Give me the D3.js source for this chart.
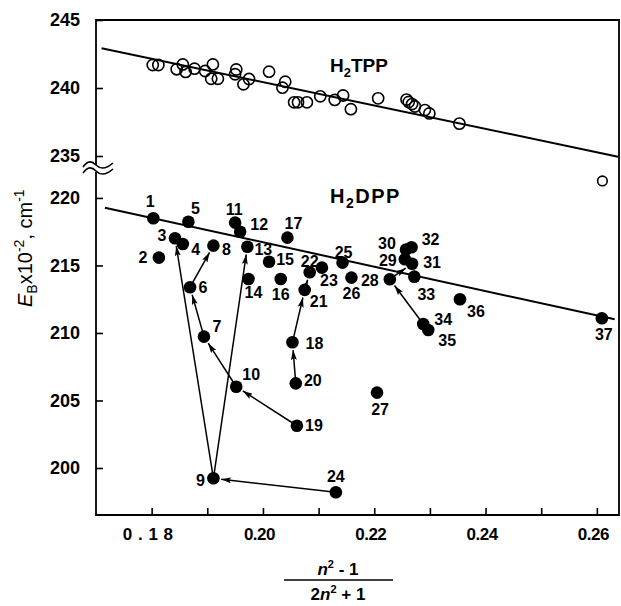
<!DOCTYPE html>
<html><head><meta charset="utf-8">
<script src="https://cdn.jsdelivr.net/npm/d3@7"></script>
<style>
html,body{margin:0;padding:0;background:#fff;}
svg{display:block;font-family:"Liberation Sans",Arial,Helvetica,sans-serif;}
svg text{fill:#000;}
</style></head>
<body>
<script>
// ---------- DATA ----------
// H2TPP (open circles)
const tppX = [0.1802,0.1812,0.1845,0.1856,0.1861,0.1877,0.1896,0.1910,0.1907,0.1919,
              0.1952,0.1950,0.1965,0.1975,0.2011,0.2040,0.2035,0.2056,0.2063,0.2079,
              0.2103,0.2129,0.2144,0.2158,0.2207,0.2258,0.2262,0.2268,0.2273,0.2291,
              0.2299,0.2353,0.2610];
const tppY = [241.69,241.69,241.38,241.73,241.18,241.42,241.25,241.73,240.68,240.68,
              241.36,241.01,240.27,240.66,241.20,240.46,240.02,238.95,238.95,238.95,
              239.39,239.12,239.45,238.44,239.24,239.15,238.97,238.82,238.64,238.38,
              238.13,237.38,221.26];
// H2DPP (filled circles, numbered 1..37)
const dppX = [0.1803,0.1813,0.1842,0.1856,0.1866,0.1869,0.1894,0.1911,0.1911,0.1952,
              0.1950,0.1959,0.1972,0.1974,0.2011,0.2032,0.2044,0.2053,0.2061,0.2059,
              0.2075,0.2084,0.2106,0.2131,0.2143,0.2159,0.2205,0.2228,0.2255,0.2257,
              0.2268,0.2267,0.2272,0.2288,0.2297,0.2354,0.2609];
const dppY = [218.50,215.58,217.01,216.59,218.24,213.39,209.73,216.47,199.24,206.02,
              218.17,217.50,216.39,214.00,215.28,214.00,217.06,209.31,203.13,206.27,
              213.19,214.50,214.84,198.20,215.21,214.10,205.58,213.98,215.46,216.17,
              215.13,216.35,214.17,210.67,210.22,212.50,211.09];
const dppIds = d3.range(1, 38);
// arrows: [from, to] point numbers
const arrowFrom = [24, 9, 9, 19, 10, 7, 6, 20, 18, 21, 34, 28];
const arrowTo   = [ 9, 3,13, 10,  7, 6, 8, 18, 21, 22, 28, 31];
// regression lines
const tppLineX = [0.1710, 0.2638];
const tppLineY = [242.92, 234.95];
const dppLineX = [0.1716, 0.2632];
const dppLineY = [219.28, 211.01];
// ticks
const yTicks = [200, 205, 210, 215, 220, 235, 240, 245];
const xTicks = [0.18, 0.19, 0.20, 0.21, 0.22, 0.23, 0.24, 0.25, 0.26];
const xTickLabels = ["0 . 1 8", "", "0.20", "", "0.22", "", "0.24", "", "0.26"];

// ---------- LAYOUT ----------
const labelOffset = [[-3,-17],[-16,0],[-13,-3],[13,6],[7,-13],[13,0],[13,-10],[13,4],[-13,2],[15,-12],
  [-1,-13],[19,-7],[16,3],[5,14],[16,-2],[0,16],[6,-14],[22,1],[17,0],[17,-3],
  [14,12],[0,-11],[7,13],[0,-16],[1,-10],[0,16],[3,17],[-20,1],[-17,1],[-19,-6],
  [20,-1],[19,-8],[12,18],[20,-4],[19,10],[16,12],[2,16]];

const W = 621, H = 606;
const svg = d3.select("body").append("svg").attr("width", W).attr("height", H);

const x = d3.scaleLinear().domain([0.17, 0.2638]).range([96, 618]);
const y = d3.scaleLinear().domain([196.52, 222.07, 233.97, 245]).range([515, 170, 170, 20]);

// frame
svg.append("path")
  .attr("d", `M${x(0.17)},${y(245)}H619V${y(196.52)}H${x(0.17)}Z`)
  .attr("fill", "none").attr("stroke", "#000").attr("stroke-width", 1.8);

// axes
const yAxis = d3.axisLeft(y).tickValues(yTicks).tickSize(-7).tickPadding(16).tickFormat(d3.format("d"));
const gy = svg.append("g").attr("transform", `translate(${x(0.17)},0)`).call(yAxis);
gy.select(".domain").remove();
gy.selectAll(".tick line").attr("stroke-width", 1.6);
gy.selectAll(".tick text").attr("font-size", 18).attr("font-weight", "bold")
  .attr("font-family", "Liberation Sans, Arial, sans-serif").attr("fill", "#000");

const xAxis = d3.axisBottom(x).tickValues(xTicks).tickSize(-7).tickPadding(13)
  .tickFormat((d, i) => xTickLabels[i]);
const gx = svg.append("g").attr("transform", `translate(0,${y(196.52)})`).call(xAxis);
gx.select(".domain").remove();
gx.selectAll(".tick line").attr("stroke-width", 1.6);
gx.selectAll(".tick text").attr("font-size", 17).attr("font-weight", "bold")
  .attr("font-family", "Liberation Sans, Arial, sans-serif").attr("fill", "#000")
  .attr("dx", -4).style("letter-spacing", (d, i) => i === 0 ? "0.5px" : "-0.5px");

// axis break marks
const bx = x(0.17);
const wave = (yy) => `M${bx-13},${yy+2} C${bx-8},${yy-5} ${bx-4},${yy-4} ${bx},${yy} S${bx+9},${yy+5} ${bx+17},${yy-2}`;
svg.append("rect").attr("x", bx - 3).attr("y", 165).attr("width", 6).attr("height", 7).attr("fill", "#fff");
svg.append("path").attr("d", wave(165)).attr("fill", "none").attr("stroke", "#000").attr("stroke-width", 1.6);
svg.append("path").attr("d", wave(171)).attr("fill", "none").attr("stroke", "#000").attr("stroke-width", 1.6);

// regression lines
const line = d3.line().x(d => x(d[0])).y(d => y(d[1]));
svg.append("path").attr("d", line(d3.zip(tppLineX, tppLineY)))
  .attr("stroke", "#000").attr("stroke-width", 2).attr("fill", "none");
svg.append("path").attr("d", line(d3.zip(dppLineX, dppLineY)))
  .attr("stroke", "#000").attr("stroke-width", 2).attr("fill", "none");

// arrow marker
svg.append("defs").append("marker")
  .attr("id", "ah").attr("viewBox", "0 0 10 6").attr("refX", 10).attr("refY", 3)
  .attr("markerWidth", 10).attr("markerHeight", 6).attr("markerUnits", "userSpaceOnUse")
  .attr("orient", "auto")
  .append("path").attr("d", "M0,0 L10,3 L0,6 L2,3 Z").attr("fill", "#000");

const R = 6.3;
arrowFrom.forEach((f, i) => {
  const t = arrowTo[i];
  const x1 = x(dppX[f-1]), y1 = y(dppY[f-1]);
  const x2 = x(dppX[t-1]), y2 = y(dppY[t-1]);
  const L = Math.hypot(x2 - x1, y2 - y1);
  const ux = (x2 - x1) / L, uy = (y2 - y1) / L;
  svg.append("line")
    .attr("x1", x1).attr("y1", y1)
    .attr("x2", x2 - ux * (R + 1.5)).attr("y2", y2 - uy * (R + 1.5))
    .attr("stroke", "#000").attr("stroke-width", 1.5)
    .attr("marker-end", "url(#ah)");
});

// open circles
svg.append("g").selectAll("circle").data(d3.zip(tppX, tppY)).join("circle")
  .attr("cx", d => x(d[0])).attr("cy", d => y(d[1]))
  .attr("r", (d, i) => i === tppX.length - 1 ? 4.8 : 5.6)
  .attr("fill", "none").attr("stroke", "#000").attr("stroke-width", 1.6);

// filled circles
svg.append("g").selectAll("circle").data(d3.zip(dppX, dppY)).join("circle")
  .attr("cx", d => x(d[0])).attr("cy", d => y(d[1])).attr("r", R).attr("fill", "#000");

// point labels
svg.append("g").selectAll("text").data(dppIds).join("text")
  .attr("x", (d, i) => x(dppX[i]) + labelOffset[i][0])
  .attr("y", (d, i) => y(dppY[i]) + labelOffset[i][1])
  .attr("text-anchor", "middle").attr("dominant-baseline", "central")
  .attr("font-size", 16).attr("font-weight", "bold").attr("fill", "#000")
  .text(d => d);

// series labels
const t1 = svg.append("text").attr("x", 330).attr("y", 72).attr("font-size", 19).attr("font-weight", "bold").attr("fill", "#000");
t1.append("tspan").text("H");
t1.append("tspan").attr("dy", 5).attr("font-size", 13).text("2");
t1.append("tspan").attr("dy", -5).text("TPP");
const t2 = svg.append("text").attr("x", 330).attr("y", 203).attr("font-size", 20).attr("font-weight", "bold").attr("fill", "#000")
  .style("letter-spacing", "1.5px");
t2.append("tspan").text("H");
t2.append("tspan").attr("dy", 5).attr("font-size", 14).text("2");
t2.append("tspan").attr("dy", -5).text("DPP");

// y axis title
const yt = svg.append("text").attr("transform", "translate(32,307) rotate(-90)").attr("font-size", 20).attr("fill", "#000");
yt.append("tspan").attr("font-style", "italic").text("E");
yt.append("tspan").attr("dy", 5).attr("font-size", 14).text("B");
yt.append("tspan").attr("dy", -5).text("x10");
yt.append("tspan").attr("dy", -8).attr("font-size", 14).text("-2");
yt.append("tspan").attr("dy", 8).text(", cm");
yt.append("tspan").attr("dy", -8).attr("font-size", 14).text("-1");

// x axis title (fraction)
const cx = 338;
const num = svg.append("text").attr("x", cx).attr("y", 575).attr("text-anchor", "middle")
  .attr("font-size", 17).attr("font-weight", "bold").attr("fill", "#000");
num.append("tspan").attr("font-style", "italic").text("n");
num.append("tspan").attr("dy", -7).attr("font-size", 11).text("2");
num.append("tspan").attr("dy", 7).text(" - 1");
svg.append("line").attr("x1", 284).attr("x2", 393).attr("y1", 580).attr("y2", 580)
  .attr("stroke", "#000").attr("stroke-width", 1.6);
const den = svg.append("text").attr("x", cx).attr("y", 600).attr("text-anchor", "middle")
  .attr("font-size", 17).attr("font-weight", "bold").attr("fill", "#000");
den.append("tspan").text("2");
den.append("tspan").attr("font-style", "italic").text("n");
den.append("tspan").attr("dy", -7).attr("font-size", 11).text("2");
den.append("tspan").attr("dy", 7).text(" + 1");
</script>
</body></html>
